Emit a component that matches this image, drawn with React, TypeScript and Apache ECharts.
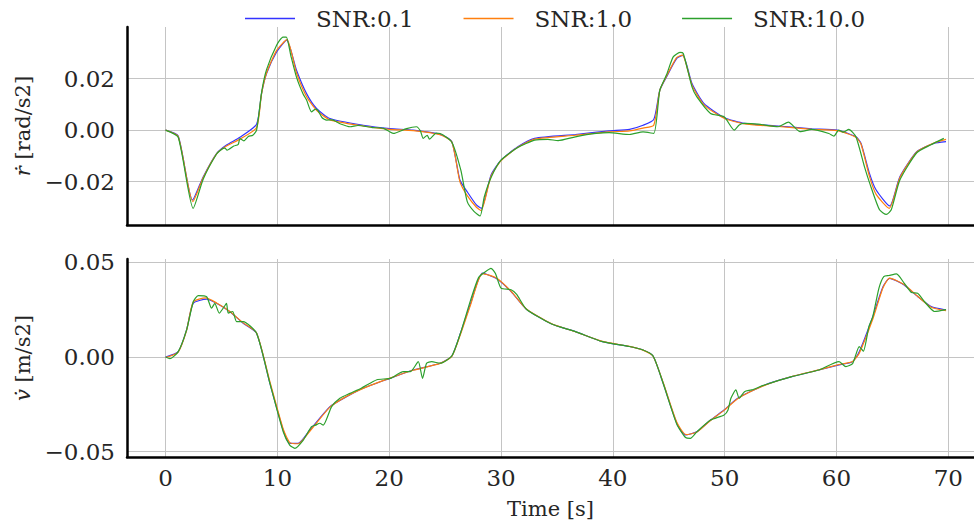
import React, { useEffect, useRef } from "react";
import * as echarts from "echarts";

// ---- data: [time s, value] ----
const rSnr01: [number, number][] = [
  [0, 0], [1.13, -0.0023], [2.41, -0.0272], [3.37, -0.0181], [4.56, -0.0091], [5.45, -0.0058],
  [6.65, -0.0028], [8.14, 0.0023], [8.58, 0.0142], [9.03, 0.022], [9.93, 0.0304], [10.82, 0.035],
  [11.71, 0.0233], [12.61, 0.0142], [13.5, 0.0084], [14.69, 0.0045], [17.67, 0.0019], [20.06, 0.0006],
  [22.15, 0], [24.53, -0.0016], [25.6, -0.0045], [26.32, -0.0194], [26.98, -0.024], [27.8, -0.0291],
  [28.25, -0.0304], [29.1, -0.0175], [30, -0.0117], [31.5, -0.0065], [33.0, -0.0032], [36.65, -0.0017],
  [39.67, -0.0003], [41.49, 0.0003], [42.7, 0.0019], [43.66, 0.0041], [44.2, 0.0155], [44.8, 0.0207],
  [45.7, 0.0278], [46.26, 0.0291], [47.08, 0.0181], [48.14, 0.0104], [49.95, 0.0049], [51.77, 0.0026],
  [54.79, 0.0016], [57.8, 0.0005], [60.08, 0], [61.74, -0.0026], [62.2, -0.0052], [62.95, -0.0168],
  [63.55, -0.0233], [64.76, -0.0295], [65.67, -0.0181], [67.18, -0.0084], [68.7, -0.0052], [69.8, -0.0045],
];
const rSnr1: [number, number][] = [
  [0, 0], [1.13, -0.0025], [2.44, -0.0278], [3.37, -0.0184], [4.56, -0.0092], [5.45, -0.0062],
  [6.65, -0.0035], [8.14, 0.001], [8.58, 0.0140], [9.03, 0.0222], [9.93, 0.0310], [10.85, 0.0352],
  [11.71, 0.0222], [12.61, 0.0130], [13.5, 0.0077], [14.69, 0.0040], [17.67, 0.0016], [20.06, 0.0003],
  [22.15, -0.0002], [24.53, -0.0018], [25.6, -0.0046], [26.32, -0.0200], [26.98, -0.0255], [27.8, -0.0300],
  [28.22, -0.0313], [29.1, -0.0180], [30, -0.0119], [31.5, -0.0067], [33.0, -0.0035], [36.65, -0.0020],
  [39.67, -0.0007], [41.49, -0.0003], [42.7, 0.0008], [43.66, 0.0019], [44.2, 0.0155], [44.8, 0.0210],
  [45.7, 0.0282], [46.22, 0.0292], [47.08, 0.0175], [48.14, 0.0098], [49.95, 0.0046], [51.77, 0.0024],
  [54.79, 0.0014], [57.8, 0.0003], [60.08, -0.0002], [61.74, -0.0028], [62.2, -0.0055], [62.95, -0.0180],
  [63.55, -0.0250], [64.72, -0.0304], [65.67, -0.0185], [67.18, -0.0085], [68.7, -0.0050], [69.8, -0.0036],
];
const rSnr10: [number, number][] = [
  [0, 0], [1.13, -0.0028], [2.47, -0.0304], [3.37, -0.0190], [4.56, -0.0093], [5.0, -0.0075],
  [5.3, -0.0070], [5.5, -0.0078], [6.1, -0.0062], [6.5, -0.0055], [6.65, -0.0033], [7.0, -0.0042],
  [7.4, -0.0025], [7.8, -0.0020], [8.14, 0], [8.6, 0.0150], [9.03, 0.0235], [9.93, 0.0330],
  [10.5, 0.0362], [10.8, 0.0362], [11.2, 0.0290], [11.7, 0.0207], [12.3, 0.0140], [12.61, 0.0117],
  [13.05, 0.0071], [13.4, 0.0082], [13.6, 0.0078], [14.0, 0.0048], [14.4, 0.0039], [14.9, 0.0040],
  [15.6, 0.0025], [16.5, 0.0013], [17.2, 0.0018], [18.5, 0.0010], [19.5, 0.0007], [20.36, -0.0013],
  [21.55, 0.0006], [22.44, 0.0013], [22.8, -0.0004], [23.04, -0.0032], [23.4, -0.0020], [23.6, -0.0035],
  [24.2, -0.0012], [24.56, -0.0013], [25.6, -0.0047], [26.4, -0.0155], [26.98, -0.0278], [27.6, -0.0317],
  [28.13, -0.0334], [28.5, -0.0260], [29.1, -0.0185], [30, -0.0117], [31.5, -0.0068], [33.0, -0.0039],
  [34.2, -0.0036], [35.1, -0.0041], [36.65, -0.0026], [38.5, -0.0013], [39.67, -0.0010], [41.49, -0.0017],
  [42.7, -0.0007], [43.66, -0.0013], [44.2, 0.0155], [44.8, 0.0215], [45.4, 0.0285], [46.0, 0.0302],
  [46.3, 0.0298], [47.08, 0.0168], [47.5, 0.0130], [48.74, 0.0065], [49.95, 0.0052], [50.86, 0],
  [51.3, 0.0020], [51.77, 0.0026], [53.0, 0.0023], [54.79, 0.0013], [55.7, 0.0031], [56.75, -0.0006],
  [57.8, 0.0003], [59.32, -0.0013], [59.77, -0.0023], [60.2, 0.0000], [60.6, -0.0008], [61.1, 0.0003],
  [61.74, -0.0026], [62.5, -0.0142], [63.0, -0.0210], [63.85, -0.031], [64.46, -0.0328], [64.9, -0.0310],
  [65.67, -0.0194], [67.18, -0.0088], [68.4, -0.0058], [69.6, -0.0032],
];

const vSnr01: [number, number][] = [
  [0, 0], [1.13, 0.0028], [1.88, 0.0143], [2.47, 0.0283], [3.67, 0.0305], [4.56, 0.0283],
  [5.75, 0.0239], [6.94, 0.0178], [8.14, 0.0125], [9.33, -0.0139], [10.52, -0.0386], [11.12, -0.0456],
  [11.86, -0.0456], [12.9, -0.0386], [14.7, -0.0262], [16.18, -0.0210], [17.67, -0.0165], [20.06, -0.0113],
  [22.15, -0.0069], [24.56, -0.0033], [25.6, 0.0005], [26.37, 0.0125], [27.28, 0.0283], [28.34, 0.0442],
  [29.55, 0.0415], [30.9, 0.0345], [32.27, 0.0252], [34.53, 0.0174], [36.65, 0.0134], [39.07, 0.0081],
  [41.49, 0.0055], [42.7, 0.0037], [43.6, 0.0005], [44.5, -0.0139], [45.72, -0.035], [46.48, -0.0412],
  [47.53, -0.0394], [48.74, -0.0333], [49.95, -0.028], [51.16, -0.0218], [53.58, -0.0148], [56.0, -0.0104],
  [58.42, -0.0069], [60.23, -0.0042], [61.44, -0.0025], [62.04, 0.0028], [63.25, 0.0213], [64.16, 0.0371],
  [64.76, 0.0415], [66.05, 0.038], [67.26, 0.0319], [68.47, 0.0266], [69.8, 0.0248],
];
const vSnr1: [number, number][] = [
  [0, -0.0003], [1.13, 0.0026], [1.88, 0.0140], [2.47, 0.0290], [3.6, 0.0312], [4.56, 0.0285],
  [5.75, 0.0240], [6.94, 0.0180], [8.14, 0.0127], [9.33, -0.0130], [10.52, -0.0380], [11.12, -0.0452],
  [11.86, -0.0458], [12.9, -0.0392], [14.7, -0.0265], [16.18, -0.0208], [17.67, -0.0166], [20.06, -0.0112],
  [22.15, -0.0070], [24.56, -0.0034], [25.6, 0.0003], [26.37, 0.0118], [27.28, 0.0275], [28.34, 0.0440],
  [29.55, 0.0418], [30.9, 0.0347], [32.27, 0.0253], [34.53, 0.0175], [36.65, 0.0133], [39.07, 0.0082],
  [41.49, 0.0056], [42.7, 0.0036], [43.6, 0.0004], [44.5, -0.0135], [45.72, -0.0345], [46.55, -0.0410],
  [47.53, -0.0396], [48.74, -0.0335], [49.95, -0.0282], [51.16, -0.0220], [53.58, -0.0150], [56.0, -0.0103],
  [58.42, -0.0068], [60.23, -0.0040], [61.44, -0.0024], [62.04, 0.0020], [63.25, 0.0200], [64.16, 0.0365],
  [64.76, 0.0416], [66.05, 0.0382], [67.26, 0.0320], [68.47, 0.0262], [69.8, 0.0244],
];
const vSnr10: [number, number][] = [
  [0, 0], [0.39, -0.0009], [1.13, 0.0028], [1.88, 0.0143], [2.47, 0.0290], [2.92, 0.0324],
  [3.67, 0.0318], [4.11, 0.0257], [4.4, 0.0283], [4.8, 0.0231], [5.15, 0.0257], [5.45, 0.0283],
  [5.6, 0.0231], [6.0, 0.0240], [6.35, 0.0187], [6.94, 0.0187], [8.14, 0.0125], [9.33, -0.0139],
  [10.52, -0.0395], [11.1, -0.0465], [11.56, -0.0482], [12.3, -0.0440], [13.05, -0.0368], [13.4, -0.0360],
  [13.8, -0.0350], [14.1, -0.0360], [14.85, -0.0262], [15.59, -0.0218], [16.5, -0.0192], [17.5, -0.0165],
  [18.9, -0.0120], [20.1, -0.0113], [21.25, -0.0077], [21.9, -0.0077], [22.6, -0.0025], [22.98, -0.0113],
  [23.34, -0.0033], [23.8, -0.0025], [24.56, -0.0033], [25.6, 0.0005], [26.37, 0.0125], [27.28, 0.0300],
  [28.0, 0.0420], [28.6, 0.0450], [29.1, 0.0468], [29.5, 0.0440], [30.0, 0.0363], [30.9, 0.0355],
  [31.4, 0.0330], [32.27, 0.0252], [34.53, 0.0174], [36.65, 0.0134], [39.07, 0.0081], [41.49, 0.0055],
  [42.7, 0.0037], [43.6, 0.0005], [44.5, -0.0139], [45.72, -0.0355], [46.5, -0.0425], [46.93, -0.0430],
  [47.53, -0.0394], [48.74, -0.0333], [49.95, -0.0306], [50.3, -0.0280], [50.56, -0.0218], [51.0, -0.0174],
  [51.3, -0.0218], [51.77, -0.0183], [52.4, -0.0174], [53.58, -0.0148], [56.0, -0.0104], [58.42, -0.0069],
  [60.23, -0.0025], [60.84, -0.0051], [61.44, -0.0035], [62.04, 0.0055], [62.4, 0.0030], [62.9, 0.0160],
  [63.25, 0.0213], [63.8, 0.0363], [64.23, 0.0424], [64.7, 0.0430], [65.37, 0.0438], [66.05, 0.0390],
  [66.7, 0.0340], [67.26, 0.0336], [67.9, 0.0290], [68.77, 0.0240], [69.8, 0.0250],
];

const seriesNames = ["SNR:0.1", "SNR:1.0", "SNR:10.0"];
const xTicks = [0, 10, 20, 30, 40, 50, 60, 70];
const rTicks = [-0.02, 0, 0.02];
const vTicks = [-0.05, 0, 0.05];

const FONT = "DejaVu Serif";
const TXT = "#262626";
const COLORS = ["#3333ff", "#ff7f0e", "#2ca02c"];

export default function App() {
  const ref = useRef<HTMLDivElement>(null);
  useEffect(() => {
    if (!ref.current) return;
    const chart = echarts.init(ref.current, undefined, { renderer: "svg" });
    const fmt = (v: number) => v.toFixed(2).replace("-", "\u2212");
    const yAxisBase = (ticks: number[], min: number, max: number, gridIndex: number, name: string) => ({
      type: "value",
      gridIndex,
      min,
      max,
      name,
      nameLocation: "middle",
      nameGap: 92,
      nameTextStyle: {
        fontFamily: FONT,
        fontSize: 21,
        color: TXT,
        rich: { i: { fontFamily: FONT, fontSize: 21, fontStyle: "italic", color: TXT } },
      },
      axisLine: { show: true, onZero: false, lineStyle: { color: "#000", width: 2.5 } },
      axisTick: { show: false, customValues: ticks },
      axisLabel: {
        customValues: ticks,
        formatter: fmt,
        fontFamily: FONT,
        fontSize: 23,
        color: TXT,
        margin: 12,
      },
      splitLine: { show: true, lineStyle: { color: "#c4c4c4", width: 1 } },
    });
    const xAxisBase = (gridIndex: number, showLabels: boolean) => ({
      type: "value",
      gridIndex,
      min: -3.45,
      max: 72.3,
      name: showLabels ? "Time [s]" : "",
      nameLocation: "middle",
      nameGap: 41,
      nameTextStyle: { fontFamily: FONT, fontSize: 21, color: TXT },
      axisLine: { show: true, onZero: false, lineStyle: { color: "#000", width: 2.5 } },
      axisTick: { show: false, customValues: xTicks },
      axisLabel: {
        show: showLabels,
        customValues: xTicks,
        fontFamily: FONT,
        fontSize: 23,
        color: TXT,
        margin: 9,
      },
      splitLine: { show: true, lineStyle: { color: "#c4c4c4", width: 1 } },
    });
    const mk = (name: string, data: [number, number][], idx: number, color: string) => ({
      type: "line",
      name,
      data,
      xAxisIndex: idx,
      yAxisIndex: idx,
      showSymbol: false,
      symbol: "none",
      smooth: 0.2,
      lineStyle: { color, width: 1.2 },
      itemStyle: { color },
      z: 2,
    });
    chart.setOption({
      animation: false,
      legend: {
        left: 245,
        top: 7,
        padding: 0,
        icon: "rect",
        itemWidth: 50,
        itemHeight: 1.6,
        itemGap: 50,
        data: seriesNames,
        textStyle: { fontFamily: FONT, fontSize: 23, color: TXT, padding: [0, 0, 0, 16] },
      },
      grid: [
        { left: 127, top: 27, width: 847, height: 198 },
        { left: 127, top: 259, width: 847, height: 198 },
      ],
      xAxis: [xAxisBase(0, false), xAxisBase(1, true)],
      yAxis: [
        yAxisBase(rTicks, -0.0369, 0.0401, 0, "{i|ṙ} [rad/s2]"),
        yAxisBase(vTicks, -0.0528, 0.0517, 1, "{i|v̇} [m/s2]"),
      ],
      series: [
        mk(seriesNames[0], rSnr01, 0, COLORS[0]),
        mk(seriesNames[1], rSnr1, 0, COLORS[1]),
        mk(seriesNames[2], rSnr10, 0, COLORS[2]),
        mk(seriesNames[0], vSnr01, 1, COLORS[0]),
        mk(seriesNames[1], vSnr1, 1, COLORS[1]),
        mk(seriesNames[2], vSnr10, 1, COLORS[2]),
      ],
    });
    return () => chart.dispose();
  }, []);
  return <div ref={ref} style={{ width: 974, height: 524, position: "absolute", left: 0, top: 0 }} />;
}
